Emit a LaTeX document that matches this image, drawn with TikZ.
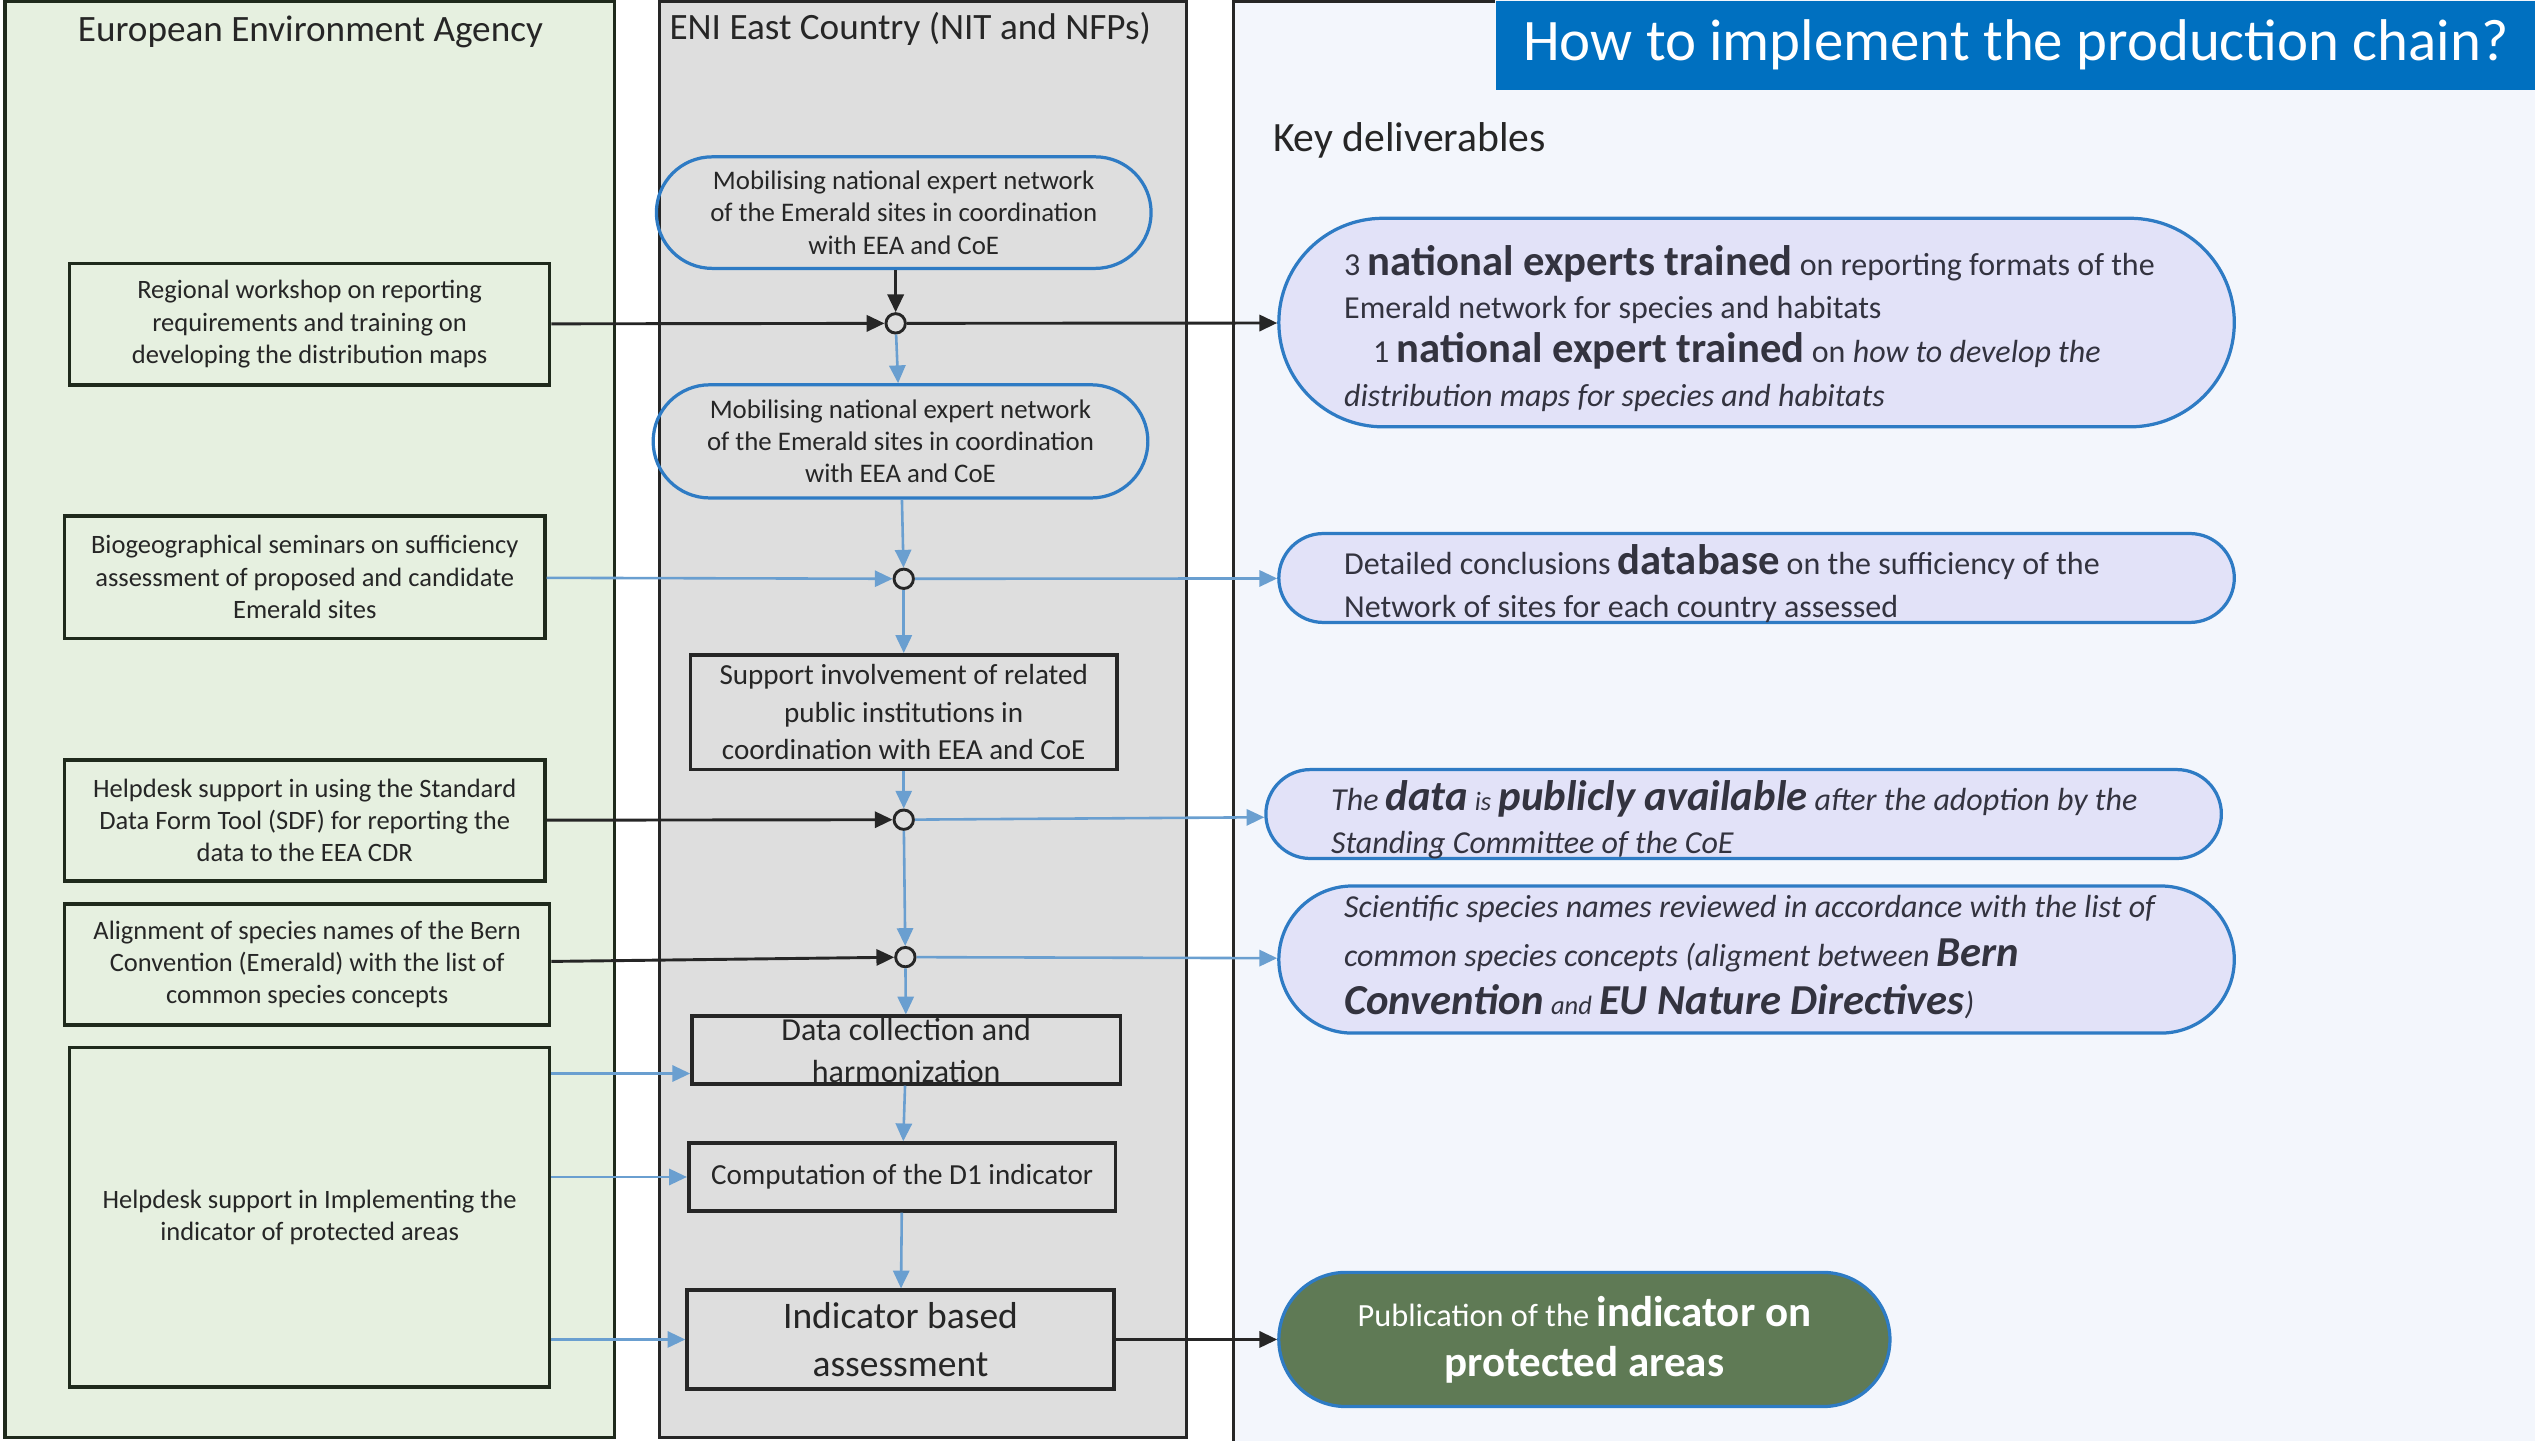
\documentclass[tikz,border=0pt]{standalone}
\usepackage{fontspec}
\setmainfont{Carlito}
\usetikzlibrary{shapes.misc,arrows.meta}
\definecolor{laneeea}{HTML}{E6F0E0}
\definecolor{laneeni}{HTML}{DEDEDE}
\definecolor{lanekey}{HTML}{F3F6FC}
\definecolor{titleblue}{HTML}{0070C0}
\definecolor{flowblue}{HTML}{6A9FD0}
\definecolor{edgeblue}{HTML}{2E7BC4}
\definecolor{delivfill}{HTML}{E2E2F8}
\definecolor{pubgreen}{HTML}{5F7A55}
\definecolor{boxline}{HTML}{1F2A1C}
\definecolor{delivtxt}{HTML}{33333F}
\newcommand\bigb[1]{{\fontsize{13.2}{13.5}\selectfont\bfseries #1}}
\newcommand\bigbi[1]{{\fontsize{13.2}{15}\selectfont\bfseries\itshape #1}}
\newcommand\smalli[1]{{\fontsize{8.2}{10}\selectfont\itshape #1}}
\begin{document}
\begin{tikzpicture}[x=0.5pt,y=-0.5pt,
  lanetitle/.style={text=black!85,font=\fontsize{11.5}{13}\selectfont},
  eeabox/.style={draw=boxline,line width=1.1pt,align=center,inner sep=0pt,text=black!85,font=\fontsize{8.2}{10}\selectfont},
  stadium/.style={rounded rectangle,draw=edgeblue,line width=1pt,align=center,inner sep=0pt,text=black!85,font=\fontsize{8.3}{10}\selectfont},
  stepbox/.style={draw=black!85,line width=1.1pt,align=center,inner sep=0pt,text=black!85},
  junc/.style={circle,draw=black!85,line width=0.9pt,fill=laneeni,minimum size=6pt,inner sep=0pt},
  deliv/.style={rounded rectangle,draw=edgeblue,line width=1pt,fill=delivfill,inner sep=0pt},
  delivtext/.style={align=left,anchor=west,inner sep=0pt,text=delivtxt,font=\fontsize{9.9}{13.5}\selectfont},
  blackflow/.style={draw=black!85,line width=0.9pt,-{Triangle[length=5.5pt,width=5pt]}},
  blueflow/.style={draw=flowblue,line width=0.8pt,-{Triangle[length=5.5pt,width=5pt]}},
]
\useasboundingbox (0,0) rectangle (1568,891);

\filldraw[fill=laneeea,draw=boxline,line width=1.1pt] (3,1) rectangle (380,889);
\filldraw[fill=laneeni,draw=black!85,line width=1.1pt] (408,1) rectangle (734,889);
\fill[lanekey] (763,0) rectangle (1568,891);
\draw[black!85,line width=1.1pt] (925,1) -- (763,1) -- (763,891);
\node[fill=titleblue,minimum width=321.5pt,minimum height=27.5pt,anchor=north west,inner sep=0pt,
  text=white,font=\fontsize{18.2}{20}\selectfont] (title) at (925,0) {How to implement the production chain?};

\node[lanetitle] (eea) at (192,20) {European Environment Agency};
\node[lanetitle] (eni) at (563,18) {ENI East Country (NIT and NFPs)};
\node[lanetitle,anchor=west,inner sep=0pt,font=\fontsize{12.9}{14}\selectfont] (keyd) at (787,87) {Key deliverables};

\node[eeabox,minimum width=148.5pt,minimum height=37.5pt] (regional) at (191.5,200.5)
  {Regional workshop on reporting\\requirements and training on\\developing the distribution maps};
\node[eeabox,minimum width=148.5pt,minimum height=38pt] (biogeo) at (188.5,357)
  {Biogeographical seminars on sufficiency\\assessment of proposed and candidate\\Emerald sites};
\node[eeabox,minimum width=148.5pt,minimum height=37.5pt] (sdf) at (188.5,507.5)
  {Helpdesk support in using the Standard\\Data Form Tool (SDF) for reporting the\\data to the EEA CDR};
\node[eeabox,minimum width=150pt,minimum height=37.5pt] (align) at (190,596.5)
  {Alignment of species names of the Bern\\Convention (Emerald) with the list of\\common species concepts};
\node[eeabox,minimum width=148.5pt,minimum height=105pt] (implement) at (191.5,753)
  {Helpdesk support in Implementing the\\indicator of protected areas};

\node[stadium,minimum width=153pt,minimum height=34.5pt] (mob1) at (559,131.5)
  {Mobilising national expert network\\of the Emerald sites in coordination\\with EEA and CoE};
\node[stadium,minimum width=153pt,minimum height=35pt] (mob2) at (557,273)
  {Mobilising national expert network\\of the Emerald sites in coordination\\with EEA and CoE};
\node[stepbox,minimum width=132pt,minimum height=35.5pt,font=\fontsize{9}{11.5}\selectfont] (support) at (559,440.5)
  {Support involvement of related\\public institutions in\\coordination with EEA and CoE};
\node[stepbox,minimum width=132.5pt,inner ysep=0.5pt,font=\fontsize{9.9}{13}\selectfont] (collect) at (560.5,649.5)
  {Data collection and\\harmonization};
\node[stepbox,minimum width=132pt,minimum height=21pt,font=\fontsize{9}{11}\selectfont] (comput) at (558,728)
  {Computation of the D1 indicator};
\node[stepbox,minimum width=132pt,minimum height=30.5pt,font=\fontsize{11.6}{15}\selectfont] (assess) at (557,828.5)
  {Indicator based\\assessment};

\foreach \n/\x/\y in {j1/554/200,j2/559/358,j3/559/507,j4/560/592}
  \node[junc] (\n) at (\x,\y) {};

\node[deliv,minimum width=295.5pt,minimum height=64.5pt] (d1) at (1086.5,199.5) {};
\node[delivtext] (d1txt) at (831,203)
  {3 \bigb{national experts trained} on reporting formats of the\\
   Emerald network for species and habitats\\
   \hspace*{9pt}1 \bigb{national expert trained} on \textit{how to develop the}\\
   \textit{distribution maps for species and habitats}};
\node[deliv,minimum width=295.5pt,minimum height=27.5pt] (d2) at (1086.5,357.5) {};
\node[delivtext] (d2txt) at (831,361)
  {Detailed conclusions \bigb{database} on the sufficiency of the\\
   Network of sites for each country assessed};
\node[deliv,minimum width=295.5pt,minimum height=27.5pt] (d3) at (1078.5,503.5) {};
\node[delivtext,font=\fontsize{9.9}{13.5}\selectfont\itshape] (d3txt) at (823,507)
  {The \bigbi{data} \smalli{is} \bigbi{publicly available} after the adoption by the\\
   Standing Committee of the CoE};
\node[deliv,minimum width=295.5pt,minimum height=45.5pt] (d4) at (1086.5,593.5) {};
\node[delivtext,font=\fontsize{9.9}{15}\selectfont\itshape] (d4txt) at (831,592)
  {Scientific species names reviewed in accordance with the list of\\
   common species concepts (aligment between \bigbi{Bern}\\
   \bigbi{Convention} \smalli{and} \bigbi{EU Nature Directives})};
\node[rounded rectangle,draw=edgeblue,line width=1pt,fill=pubgreen,minimum width=189pt,minimum height=41.5pt,
  inner sep=0pt,align=center,text=white,font=\fontsize{10}{15.5}\selectfont] (pub) at (980,828.5)
  {Publication of the {\fontsize{13.3}{15.5}\selectfont\bfseries indicator on}\\
   {\fontsize{13.3}{15.5}\selectfont\bfseries protected areas}};

\draw[blackflow] (mob1.south -| j1) -- (j1);
\draw[blackflow] (regional) -- (j1);
\draw[blackflow] (j1) -- (d1);
\draw[blueflow] (j1) -- (mob2);
\draw[blueflow] (mob2) -- (j2);
\draw[blueflow] (biogeo) -- (j2);
\draw[blueflow] (j2) -- (d2);
\draw[blueflow] (j2) -- (support);
\draw[blueflow] (support) -- (j3);
\draw[blackflow] (sdf) -- (j3);
\draw[blueflow] (j3) -- (d3);
\draw[blueflow] (j3) -- (j4);
\draw[blackflow] (align) -- (j4);
\draw[blueflow] (j4) -- (d4);
\draw[blueflow] (j4) -- (collect);
\draw[blueflow] (collect) -- (comput);
\draw[blueflow] (comput) -- (assess);
\coordinate (c1) at ([yshift=-7.25pt]collect.west);
\draw[blueflow] (implement.east |- c1) -- (c1);
\draw[blueflow] (implement.east |- comput.west) -- (comput.west);
\draw[blueflow] (implement.east |- assess.west) -- (assess.west);
\draw[blackflow] (assess) -- (pub);
\end{tikzpicture}
\end{document}
